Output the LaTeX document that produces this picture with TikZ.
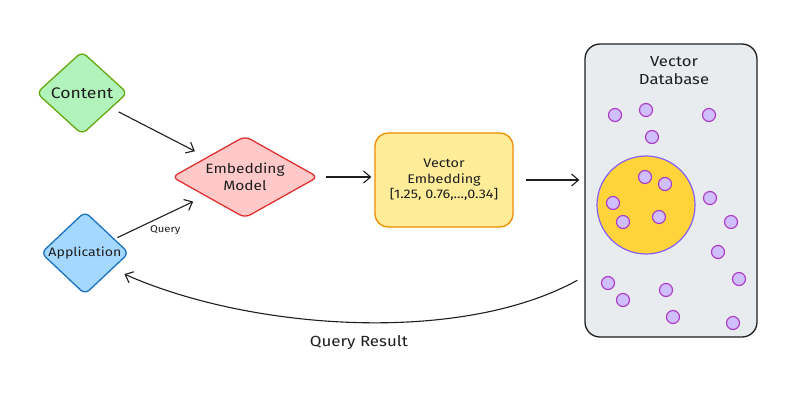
\documentclass[tikz,border=0pt]{standalone}
\usepackage{fontspec}
\setmainfont[FakeStretch=1.15]{Fira Sans}
\usetikzlibrary{shapes.geometric,arrows.meta,calc}
\definecolor{inkc}{HTML}{1E1E1E}
\definecolor{grfill}{HTML}{B2F2BB}
\definecolor{grline}{HTML}{66A80F}
\definecolor{rdfill}{HTML}{FFC9C9}
\definecolor{rdline}{HTML}{E03131}
\definecolor{blfill}{HTML}{A5D8FF}
\definecolor{blline}{HTML}{1971C2}
\definecolor{yefill}{HTML}{FFEC99}
\definecolor{yeline}{HTML}{F08C00}
\definecolor{dbfill}{HTML}{E9ECEF}
\definecolor{clfill}{HTML}{FFD43B}
\definecolor{clline}{HTML}{845EF7}
\definecolor{dotfill}{HTML}{D0BFFF}
\definecolor{dotline}{HTML}{AE3EC9}
\tikzset{
  dia/.style={diamond, draw, line width=1.3pt, inner sep=0pt, rounded corners=6pt, align=center, text=inkc},
  conn/.style={draw=inkc, line width=1.1pt, -{Straight Barb[length=7pt,width=12pt,line width=1.1pt]}},
  vdot/.style={circle, draw=dotline, fill=dotfill, line width=1.2pt, minimum size=13pt, inner sep=0pt},
}
\begin{document}
\begin{tikzpicture}[x=1pt,y=-1pt]
\useasboundingbox[fill=white] (0,0) rectangle (800,400);

\node[dia, aspect=1.1, fill=grfill, draw=grline, minimum width=91pt, minimum height=83pt, font=\fontsize{15.3}{17}\selectfont] (content) at (82,93) {Content};
\node[dia, aspect=1.78, fill=rdfill, draw=rdline, minimum width=146pt, minimum height=82pt, font=\fontsize{13.5}{17}\selectfont] (emb) at (245,177) {Embedding\\Model};
\node[dia, aspect=1.06, fill=blfill, draw=blline, minimum width=88pt, minimum height=83pt, font=\fontsize{12.3}{15}\selectfont] (app) at (85,253) {Application};

\node[draw=yeline, fill=yefill, line width=1.3pt, rounded corners=13pt, minimum width=138pt, minimum height=94pt, align=center, text=inkc, font=\fontsize{12.5}{15.5}\selectfont] (vec) at (444,180) {Vector\\Embedding\\{[}1.25, 0.76,...,0.34{]}};

\node[draw=inkc, fill=dbfill, line width=1.3pt, rounded corners=15pt, minimum width=172pt, minimum height=293pt] (db) at (671,190.5) {};
\node[text=inkc, align=center, font=\fontsize{14.5}{18}\selectfont] (dbl) at (674,71) {Vector\\Database};

\node[circle, draw=clline, fill=clfill, line width=1.2pt, minimum size=98pt, inner sep=0pt] (cluster) at (646,205) {};

\foreach \n/\px/\py in {1/615/115, 2/646/110, 3/709/115, 4/652/137, 5/645/177, 6/665/184, 7/613/203, 8/659/217, 9/623/222, 10/710/198, 11/731/222, 12/718/252, 13/739/279, 14/608/283, 15/623/300, 16/666/290, 17/673/317, 18/733/323}
  \node[vdot] (d\n) at (\px,\py) {};

\draw[conn, shorten <=8pt, shorten >=13pt] (content) -- (emb);
\draw[conn, shorten <=3pt, shorten >=13pt] (app) -- (emb) node[pos=0.56, below=7pt, font=\fontsize{9.8}{11}\selectfont, text=inkc] (ql) {Query};
\draw[conn] ([xshift=7pt]emb.east) -- ([xshift=-3pt]vec.west |- emb.east);
\draw[conn] ([xshift=12pt]vec.east) -- ([xshift=-5pt]vec.east -| db.west);
\coordinate (dbout) at ($(db.south west)!0.195!(db.north west)+(-7,0)$);
\draw[conn] (dbout) .. controls (460,345) and (250,330) .. ($(app.south east)+(17,0)$) node[pos=0.5, below=9pt, xshift=5pt, font=\fontsize{14.7}{18}\selectfont, text=inkc] (qr) {Query Result};
\end{tikzpicture}
\end{document}
